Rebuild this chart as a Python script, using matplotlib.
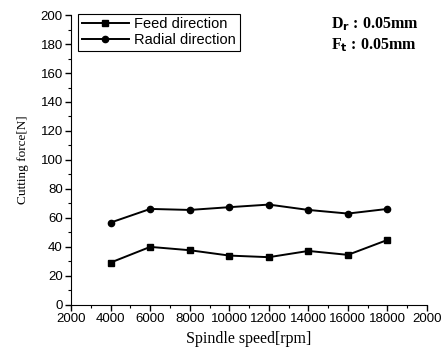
import matplotlib
matplotlib.use('Agg')
import matplotlib.pyplot as plt
from matplotlib.ticker import MultipleLocator

speed = [4000, 6000, 8000, 10000, 12000, 14000, 16000, 18000]
feed = [29.2, 40.0, 37.7, 34.0, 32.9, 37.2, 34.5, 44.8]
radial = [56.8, 66.2, 65.5, 67.4, 69.2, 65.5, 63.0, 66.2]
xticks = [2000, 4000, 6000, 8000, 10000, 12000, 14000, 16000, 18000, 20000]
xticklabels = ['2000', '4000', '6000', '8000', '10000', '12000', '14000',
               '16000', '18000', '2000']

fig = plt.figure(figsize=(4.42, 3.5), dpi=100)
ax = fig.add_axes([0.161, 0.129, 0.805, 0.828])

ax.plot(speed, feed, color='black', lw=1.4, marker='s', ms=4.5, label='Feed direction')
ax.plot(speed, radial, color='black', lw=1.4, marker='o', ms=4.5, label='Radial direction')

ax.set_xlim(2000, 20000)
ax.set_ylim(0, 200)
ax.set_xticks(xticks)
ax.set_xticklabels(xticklabels)
ax.xaxis.set_minor_locator(MultipleLocator(1000))
ax.yaxis.set_major_locator(MultipleLocator(20))
ax.yaxis.set_minor_locator(MultipleLocator(10))
ax.spines['top'].set_visible(False)
ax.spines['right'].set_visible(False)
ax.tick_params(which='major', direction='out', length=4, width=1, labelsize=9.5, pad=2)
ax.tick_params(which='minor', direction='out', length=2, width=0.8)
for lbl in ax.get_xticklabels() + ax.get_yticklabels():
    lbl.set_fontfamily('Liberation Sans')

ax.set_xlabel('Spindle speed[rpm]', family='Liberation Serif', fontsize=11.5, labelpad=4)
ax.set_ylabel('Cutting force[N]', family='Liberation Serif', fontsize=9.5, labelpad=8)

leg = ax.legend(loc='upper left', bbox_to_anchor=(0.02, 1.005), fancybox=False,
                edgecolor='black', framealpha=1, handlelength=3.2,
                borderpad=0.25, labelspacing=0.15, handletextpad=0.4,
                borderaxespad=0.0,
                prop={'family': 'Liberation Sans', 'size': 10.5})
leg.get_frame().set_linewidth(0.8)

ax.text(0.73, 1.0, r'D$_\mathbf{r}$ : 0.05mm', transform=ax.transAxes,
        family='Liberation Serif', fontweight='bold', fontsize=11.5, va='top')
ax.text(0.73, 0.925, r'F$_\mathbf{t}$ : 0.05mm', transform=ax.transAxes,
        family='Liberation Serif', fontweight='bold', fontsize=11.5, va='top')

fig.savefig('out.png', dpi=100)
